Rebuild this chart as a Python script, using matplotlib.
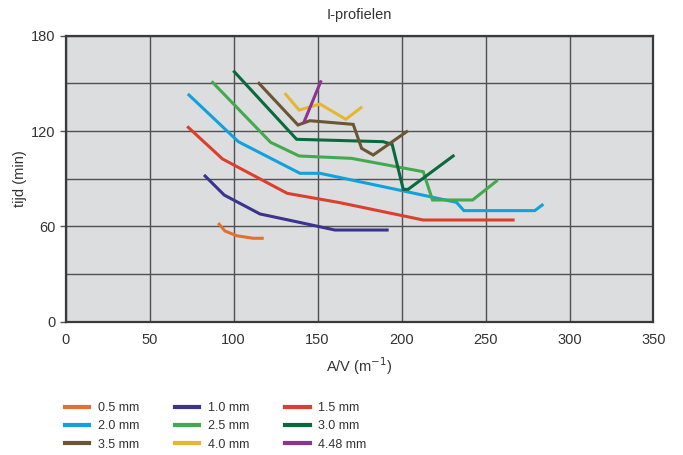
import matplotlib
matplotlib.use('Agg')
import matplotlib.pyplot as plt
from matplotlib.ticker import MultipleLocator

plt.rcParams['font.family'] = ['Liberation Sans Narrow', 'Liberation Sans', 'DejaVu Sans']

# profile thickness -> (A/V, time) curves
labels = ['0.5 mm', '1.0 mm', '1.5 mm', '2.0 mm', '2.5 mm', '3.0 mm', '3.5 mm', '4.0 mm', '4.48 mm']
colours = ['#E2702F', '#3A348F', '#DC3F2C', '#10A2DC', '#43A94E', '#0A6A3D', '#6B5535', '#E6B632', '#8E3390']

av_05 = [91.4, 94.8, 101.8, 111.7, 117.0]
t_05 = [61.3, 57.1, 54.1, 52.5, 52.5]

av_10 = [83.0, 94.4, 115.7, 137.5, 160.3, 191.4]
t_10 = [91.7, 79.7, 67.8, 62.9, 57.7, 57.7]

av_15 = [73.0, 93.4, 131.9, 163.3, 212.9, 266.4]
t_15 = [122.3, 102.4, 80.8, 74.9, 64.0, 64.0]

av_20 = [73.4, 102.8, 139.5, 151.4, 201.0, 232.7, 237.1, 279.3, 283.7]
t_20 = [142.7, 113.3, 93.4, 93.4, 82.3, 75.1, 69.9, 69.9, 73.4]

av_25 = [87.5, 122.0, 139.0, 170.2, 212.9, 218.4, 242.3, 256.5]
t_25 = [150.6, 112.9, 104.3, 102.8, 94.4, 76.6, 76.6, 88.5]

av_30 = [100.4, 137.5, 175.2, 189.0, 194.4, 201.0, 203.9, 230.7]
t_30 = [157.3, 114.8, 113.7, 113.3, 111.6, 83.3, 83.3, 104.3]

av_35 = [115.1, 138.3, 145.4, 171.2, 176.2, 183.1, 203.0]
t_35 = [150.0, 123.8, 126.5, 124.2, 109.1, 104.9, 119.6]

av_40 = [131.0, 139.0, 151.4, 166.8, 175.8]
t_40 = [143.1, 133.2, 137.0, 127.4, 134.7]

av_448 = [142.0, 151.8]
t_448 = [125.9, 151.0]

series = [(av_05, t_05), (av_10, t_10), (av_15, t_15), (av_20, t_20), (av_25, t_25),
          (av_30, t_30), (av_35, t_35), (av_40, t_40), (av_448, t_448)]

fig = plt.figure(figsize=(6.83, 4.55), dpi=100)
ax = fig.add_axes([0.0962, 0.293, 0.8606, 0.6285])
ax.set_facecolor('#DCDDDF')

lines = []
for (x, y), c, lab in zip(series, colours, labels):
    l, = ax.plot(x, y, color=c, lw=2.2, solid_joinstyle='miter', label=lab, zorder=3)
    lines.append(l)

ax.set_xlim(0, 350)
ax.set_ylim(0, 180)
ax.xaxis.set_major_locator(MultipleLocator(50))
ax.yaxis.set_major_locator(MultipleLocator(60))
ax.yaxis.set_minor_locator(MultipleLocator(30))
ax.grid(which='both', color='#505050', lw=1.0, zorder=1)
ax.set_axisbelow(True)
for s in ax.spines.values():
    s.set_color('#3A3A3A')
    s.set_linewidth(1.6)
ax.tick_params(axis='x', length=0, pad=8, labelsize=10.5, labelcolor='#333333')
ax.tick_params(axis='y', which='major', length=4, width=1, direction='out', color='#555555',
               labelsize=10.5, labelcolor='#333333')
ax.tick_params(axis='y', which='minor', length=0)

ax.set_title('I-profielen', fontsize=10.5, color='#333333', pad=12)
ax.set_xlabel('A/V (m$^{-1}$)', fontsize=10.5, color='#333333', labelpad=6)
ax.set_ylabel('tijd (min)', fontsize=10.5, color='#333333', labelpad=3)

# legend fills column by column, so reorder to read row by row
order = [0, 3, 6, 1, 4, 7, 2, 5, 8]
leg = fig.legend(handles=[lines[i] for i in order], loc='upper left',
                 bbox_to_anchor=(0.086, 0.13), ncol=3,
                 frameon=False, handlelength=1.95, handletextpad=0.7,
                 columnspacing=2.85, labelspacing=0.5, borderpad=0,
                 prop={'family': ['Liberation Sans', 'DejaVu Sans'], 'size': 9})
for t in leg.get_texts():
    t.set_color('#333333')
for h in leg.legend_handles:
    h.set_linewidth(3)

fig.savefig('out.png', dpi=100)
